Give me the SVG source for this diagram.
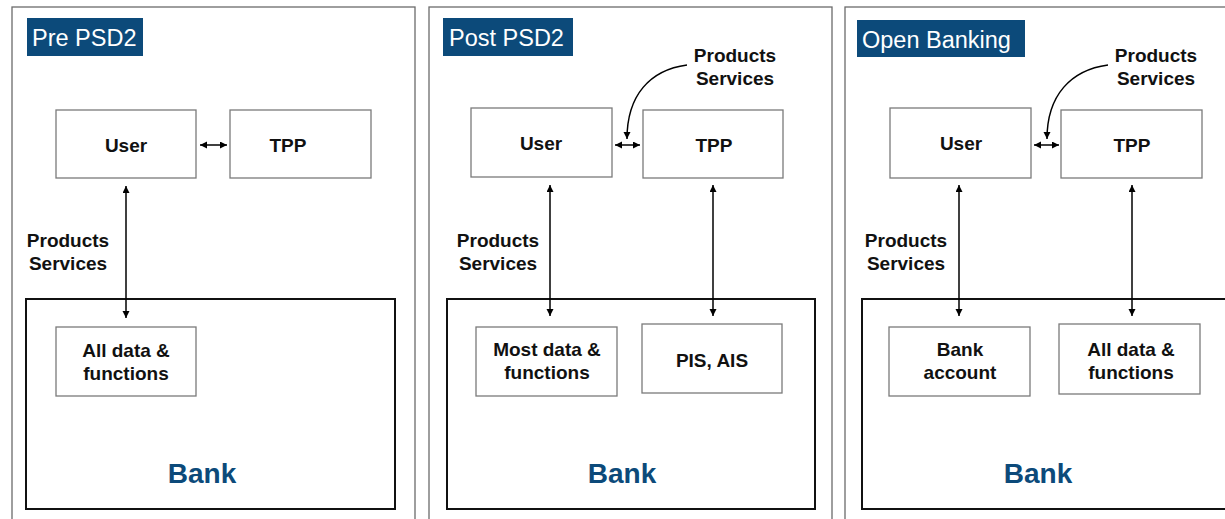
<svg xmlns="http://www.w3.org/2000/svg" width="1225" height="519" viewBox="0 0 1225 519">
  <defs>
    <marker id="ah" markerUnits="userSpaceOnUse" markerWidth="8" markerHeight="8" refX="7" refY="3.5" orient="auto-start-reverse">
      <path d="M0,0 L7,3.5 L0,7 z" fill="#000"/>
    </marker>
    <style>
      .panel { fill: #fff; stroke: #6b6b6b; stroke-width: 1.3; }
      .title-bg { fill: #0c4a7a; }
      .title { font-family: "Liberation Sans", Arial, sans-serif; font-size: 23.5px; fill: #fff; }
      .box { fill: #fff; stroke: #7a7a7a; stroke-width: 1.3; }
      .bank { fill: #fff; stroke: #111; stroke-width: 2; }
      .lbl { font-family: "Liberation Sans", Arial, sans-serif; font-size: 19px; font-weight: bold; fill: #111; text-anchor: middle; }
      .banklbl { font-family: "Liberation Sans", Arial, sans-serif; font-size: 28px; font-weight: bold; fill: #0c4a7a; text-anchor: middle; }
      .conn { fill: none; stroke: #000; stroke-width: 1.5; marker-end: url(#ah); }
      .both { marker-start: url(#ah); }
    </style>
  </defs>
  <rect width="1225" height="519" fill="#fff"/>

  <!-- Panel 1: Pre PSD2 -->
  <g id="panel-pre">
    <rect class="panel" x="12" y="7" width="403" height="530"/>
    <rect class="title-bg" x="27" y="18" width="116" height="38"/>
    <text class="title" x="32" y="46">Pre PSD2</text>
  </g>
  <g id="pre-bank">
    <rect class="bank" x="26" y="299" width="369" height="210"/>
    <text class="banklbl" x="202" y="483">Bank</text>
  </g>
  <g id="pre-user">
    <rect class="box" x="56" y="110" width="140" height="68"/>
    <text class="lbl" x="126" y="152">User</text>
  </g>
  <g id="pre-tpp">
    <rect class="box" x="230" y="110" width="141" height="68"/>
    <text class="lbl" x="288" y="152">TPP</text>
  </g>
  <g id="pre-data">
    <rect class="box" x="56" y="327" width="140" height="69"/>
    <text class="lbl" x="126" y="357">All data &amp;</text>
    <text class="lbl" x="126" y="380">functions</text>
  </g>
  <g id="pre-label">
    <text class="lbl" x="68" y="247">Products</text>
    <text class="lbl" x="68" y="270">Services</text>
  </g>

  <!-- Panel 2: Post PSD2 -->
  <g id="panel-post">
    <rect class="panel" x="429" y="7" width="403" height="530"/>
    <rect class="title-bg" x="443" y="18" width="130" height="38"/>
    <text class="title" x="449" y="46">Post PSD2</text>
  </g>
  <g id="post-bank">
    <rect class="bank" x="447" y="299" width="368" height="210"/>
    <text class="banklbl" x="622" y="483">Bank</text>
  </g>
  <g id="post-user">
    <rect class="box" x="471" y="108" width="141" height="69"/>
    <text class="lbl" x="541" y="150">User</text>
  </g>
  <g id="post-tpp">
    <rect class="box" x="643" y="110" width="140" height="68"/>
    <text class="lbl" x="714" y="152">TPP</text>
  </g>
  <g id="post-data">
    <rect class="box" x="476" y="327" width="141" height="69"/>
    <text class="lbl" x="547" y="356">Most data &amp;</text>
    <text class="lbl" x="547" y="379">functions</text>
  </g>
  <g id="post-api">
    <rect class="box" x="642" y="324" width="140" height="69"/>
    <text class="lbl" x="712" y="367">PIS, AIS</text>
  </g>
  <g id="post-label-left">
    <text class="lbl" x="498" y="247">Products</text>
    <text class="lbl" x="498" y="270">Services</text>
  </g>
  <g id="post-label-top">
    <text class="lbl" x="735" y="62">Products</text>
    <text class="lbl" x="735" y="85">Services</text>
  </g>

  <!-- Panel 3: Open Banking -->
  <g id="panel-open">
    <rect class="panel" x="845" y="7" width="420" height="530"/>
    <rect class="title-bg" x="857" y="20" width="168" height="37"/>
    <text class="title" x="862" y="48">Open Banking</text>
  </g>
  <g id="open-bank">
    <rect class="bank" x="862" y="299" width="400" height="210"/>
    <text class="banklbl" x="1038" y="483">Bank</text>
  </g>
  <g id="open-user">
    <rect class="box" x="890" y="108" width="141" height="70"/>
    <text class="lbl" x="961" y="150">User</text>
  </g>
  <g id="open-tpp">
    <rect class="box" x="1061" y="110" width="141" height="68"/>
    <text class="lbl" x="1132" y="152">TPP</text>
  </g>
  <g id="open-account">
    <rect class="box" x="889" y="327" width="141" height="69"/>
    <text class="lbl" x="960" y="356">Bank</text>
    <text class="lbl" x="960" y="379">account</text>
  </g>
  <g id="open-data">
    <rect class="box" x="1059" y="324" width="141" height="70"/>
    <text class="lbl" x="1131" y="356">All data &amp;</text>
    <text class="lbl" x="1131" y="379">functions</text>
  </g>
  <g id="open-label-left">
    <text class="lbl" x="906" y="247">Products</text>
    <text class="lbl" x="906" y="270">Services</text>
  </g>
  <g id="open-label-top">
    <text class="lbl" x="1156" y="62">Products</text>
    <text class="lbl" x="1156" y="85">Services</text>
  </g>

  <!-- Connectors -->
  <g id="connectors">
    <line class="conn both" x1="200" y1="145" x2="227" y2="145"/>
    <line class="conn both" x1="126" y1="186" x2="126" y2="318"/>

    <line class="conn both" x1="615" y1="145" x2="640" y2="145"/>
    <path class="conn" d="M687 65 C650 70 627 95 627 139"/>
    <line class="conn both" x1="550" y1="185" x2="550" y2="316"/>
    <line class="conn both" x1="713" y1="185" x2="713" y2="316"/>

    <line class="conn both" x1="1034" y1="145" x2="1059" y2="145"/>
    <path class="conn" d="M1108 65 C1071 70 1047 95 1047 139"/>
    <line class="conn both" x1="959" y1="185" x2="959" y2="316"/>
    <line class="conn both" x1="1132" y1="185" x2="1132" y2="316"/>
  </g>
</svg>
